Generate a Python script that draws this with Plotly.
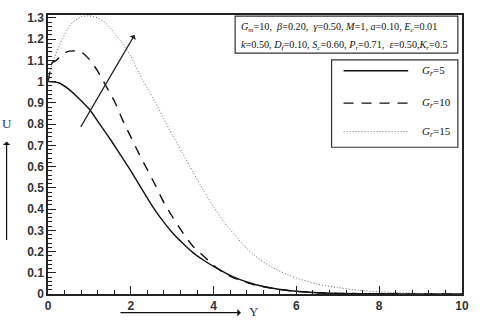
import plotly.graph_objects as go

# Velocity profiles U(Y) for three values of Gr
y_gr5 = [0, 0.25, 0.5, 0.75, 1.0, 1.25, 1.5, 1.75, 2.0, 2.25, 2.5, 2.75, 3.0, 3.25,
         3.5, 3.75, 4.0, 4.5, 5.0, 5.5, 6.0, 6.5, 7.0, 8.0, 9.0, 10.0]
u_gr5 = [1.0, 0.995, 0.965, 0.92, 0.87, 0.80, 0.73, 0.655, 0.58, 0.50, 0.42, 0.35, 0.29, 0.24,
         0.195, 0.16, 0.13, 0.078, 0.045, 0.025, 0.013, 0.006, 0.003, 0.001, 0, 0]

y_gr10 = [0, 0.05, 0.1, 0.2, 0.3, 0.45, 0.6, 0.8, 1.0, 1.2, 1.4, 1.6, 1.8, 2.0, 2.2, 2.4,
          2.6, 2.8, 3.0, 3.25, 3.5, 3.75, 4.0, 4.25, 4.5, 5.0, 5.5, 6.0, 6.5, 7.0, 8.0, 9.0, 10.0]
u_gr10 = [1.0, 1.05, 1.09, 1.10, 1.12, 1.14, 1.145, 1.14, 1.105, 1.05, 0.98, 0.91, 0.82, 0.74, 0.66, 0.585,
          0.51, 0.43, 0.365, 0.29, 0.225, 0.18, 0.135, 0.10, 0.075, 0.043, 0.024, 0.012, 0.006, 0.003, 0.001, 0, 0]

y_gr15 = [0, 0.1, 0.2, 0.3, 0.45, 0.6, 0.8, 1.0, 1.2, 1.4, 1.6, 1.8, 2.0, 2.2, 2.4, 2.6, 2.8,
          3.0, 3.25, 3.5, 3.75, 4.0, 4.25, 4.5, 4.75, 5.0, 5.25, 5.5, 5.75, 6.0, 6.5, 7.0, 7.5, 8.0, 9.0, 10.0]
u_gr15 = [1.0, 1.08, 1.135, 1.18, 1.24, 1.28, 1.305, 1.31, 1.30, 1.275, 1.23, 1.18, 1.12, 1.04, 0.97, 0.90, 0.825,
          0.75, 0.665, 0.575, 0.49, 0.41, 0.34, 0.28, 0.225, 0.18, 0.145, 0.117, 0.094, 0.075, 0.047, 0.03, 0.018,
          0.01, 0.003, 0]

SERIF = "Liberation Serif, Times New Roman, serif"
NAVY = "#1F2F5C"

fig = go.Figure()
fig.add_trace(go.Scatter(x=y_gr5, y=u_gr5, mode="lines",
                         line=dict(color="#111111", width=1.4, shape="spline", smoothing=0.6)))
fig.add_trace(go.Scatter(x=y_gr10, y=u_gr10, mode="lines",
                         line=dict(color="#111111", width=1.4, dash="10px,8px",
                                   shape="spline", smoothing=0.6)))
fig.add_trace(go.Scatter(x=y_gr15, y=u_gr15, mode="lines",
                         line=dict(color="#6a6a6a", width=1, dash="1px,2px",
                                   shape="spline", smoothing=0.6)))

axis_common = dict(
    showline=True, linecolor="#222222", linewidth=1.5, mirror=True,
    ticks="inside", tickcolor="#222222", ticklen=8, showgrid=False, zeroline=False,
    tickfont=dict(family="Arial, Liberation Sans", size=12, color="#333333", weight="bold"),
)

fig.update_xaxes(range=[0, 10], dtick=2, tick0=0,
                 minor=dict(ticks="inside", dtick=0.4, ticklen=4, tickcolor="#222222"),
                 **axis_common)
fig.update_yaxes(range=[0, 1.314], dtick=0.1, tick0=0,
                 minor=dict(ticks="inside", dtick=0.02, ticklen=4, tickcolor="#222222"),
                 **axis_common)

shapes = [
    # parameter box
    dict(type="rect", xref="paper", yref="paper", x0=0.452, x1=0.99, y0=0.863, y1=0.996,
         line=dict(color="#333333", width=1.2), fillcolor="white"),
    # legend box
    dict(type="rect", xref="paper", yref="paper", x0=0.685, x1=0.99, y0=0.526, y1=0.839,
         line=dict(color="#333333", width=1.2), fillcolor="white"),
    # legend samples
    dict(type="line", xref="paper", yref="paper", x0=0.714, x1=0.870, y0=0.800, y1=0.800,
         line=dict(color="#111111", width=1.4)),
    dict(type="line", xref="paper", yref="paper", x0=0.714, x1=0.870, y0=0.684, y1=0.684,
         line=dict(color="#111111", width=1.4, dash="10px,8px")),
    dict(type="line", xref="paper", yref="paper", x0=0.714, x1=0.870, y0=0.582, y1=0.582,
         line=dict(color="#6a6a6a", width=1, dash="1px,2px")),
]

param1 = ("<i>G<sub>m</sub></i>=10,  <i>β</i>=0.20,  <i>γ</i>=0.50, <i>M</i>=1, "
          "<i>a</i>=0.10, <i>E<sub>c</sub></i>=0.01")
param2 = ("<i>k</i>=0.50, <i>D<sub>f</sub></i>=0.10, <i>S<sub>c</sub></i>=0.60, "
          "<i>P<sub>r</sub></i>=0.71,  <i>ε</i>=0.50,<i>K<sub>r</sub></i>=0.5")

annotations = [
    dict(text=param1, xref="paper", yref="paper", x=0.462, y=0.955, xanchor="left",
         yanchor="middle", showarrow=False, font=dict(family=SERIF, size=10.2, color="#111")),
    dict(text=param2, xref="paper", yref="paper", x=0.462, y=0.89, xanchor="left",
         yanchor="middle", showarrow=False, font=dict(family=SERIF, size=10.2, color="#111")),
    dict(text="<i>G<sub>r</sub></i>=5", xref="paper", yref="paper", x=0.899, y=0.80,
         xanchor="left", yanchor="middle", showarrow=False,
         font=dict(family=SERIF, size=11, color="#111")),
    dict(text="<i>G<sub>r</sub></i>=10", xref="paper", yref="paper", x=0.899, y=0.684,
         xanchor="left", yanchor="middle", showarrow=False,
         font=dict(family=SERIF, size=11, color="#111")),
    dict(text="<i>G<sub>r</sub></i>=15", xref="paper", yref="paper", x=0.899, y=0.582,
         xanchor="left", yanchor="middle", showarrow=False,
         font=dict(family=SERIF, size=11, color="#111")),
    # increasing Gr arrow
    dict(x=2.09, y=1.22, ax=0.77, ay=0.78, xref="x", yref="y", axref="x", ayref="y",
         text="", showarrow=True, arrowhead=1, arrowsize=1, arrowwidth=1.2, arrowcolor="#222"),
    # axis titles with arrows
    dict(text="U", xref="paper", yref="paper", x=-0.1, y=0.61, showarrow=False,
         xanchor="center", yanchor="middle", font=dict(family=SERIF, size=13, color=NAVY)),
    dict(x=-0.1, y=0.547, xref="paper", yref="paper", ax=0, ay=100, text="",
         showarrow=True, arrowhead=1, arrowsize=1, arrowwidth=1.2, arrowcolor="#111"),
    dict(text="Y", xref="paper", yref="paper", x=0.498, y=-0.063, showarrow=False,
         xanchor="center", yanchor="middle", font=dict(family=SERIF, size=13, color=NAVY)),
    dict(x=0.466, y=-0.067, xref="paper", yref="paper", ax=-122, ay=0, text="",
         showarrow=True, arrowhead=1, arrowsize=1, arrowwidth=1.2, arrowcolor="#111"),
]

fig.update_layout(
    width=480, height=324,
    margin=dict(l=48, r=16, t=11, b=28),
    plot_bgcolor="white", paper_bgcolor="white",
    showlegend=False,
    shapes=shapes,
    annotations=annotations,
)

fig.write_html("out.html", config={"displayModeBar": False},
               post_script="document.body.style.margin='0';")
